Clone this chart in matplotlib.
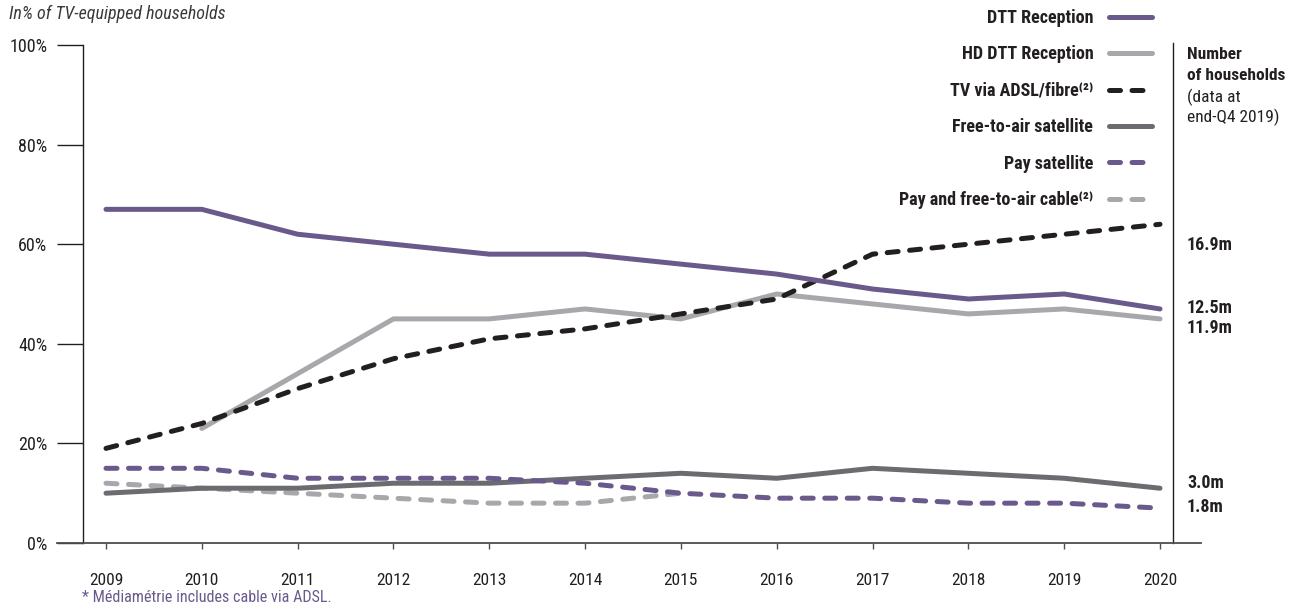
import matplotlib
matplotlib.use("Agg")
import matplotlib.pyplot as plt

years = [2009, 2010, 2011, 2012, 2013, 2014, 2015, 2016, 2017, 2018, 2019, 2020]

dtt = [67, 67, 62, 60, 58, 58, 56, 54, 51, 49, 50, 47]
hd_years = years[1:]
hd_dtt = [23, 34, 45, 45, 47, 45, 50, 48, 46, 47, 45]
adsl = [19, 24, 31, 37, 41, 43, 46, 49, 58, 60, 62, 64]
fta_sat = [10, 11, 11, 12, 12, 13, 14, 13, 15, 14, 13, 11]
pay_sat = [15, 15, 13, 13, 13, 12, 10, 9, 9, 8, 8, 7]
cable_years = years[:7]
cable = [12, 11, 10, 9, 8, 8, 10]

series_labels = ["DTT Reception", "HD DTT Reception", "TV via ADSL/fibre⁽²⁾",
                 "Free-to-air satellite", "Pay satellite",
                 "Pay and free-to-air cable⁽²⁾"]
household_labels = ["16.9m", "12.5m", "11.9m", "3.0m", "1.8m"]
y_ticks = [0, 20, 40, 60, 80, 100]

PURPLE = "#6a5a8c"
LIGHT = "#a8a8ac"
BLACK = "#231f20"
DARK = "#6b6c70"
TEXT = "#231f20"

FAM = ["Roboto Condensed", "DejaVu Sans"]
plt.rcParams["font.family"] = FAM

W, H = 1304, 613
fig = plt.figure(figsize=(W / 100, H / 100), dpi=100)

# axes box in pixels: x 57..1201, y 45..543 (from top)
ax_l, ax_r, ax_t, ax_b = 57, 1201, 45, 543
ax = fig.add_axes([ax_l / W, 1 - ax_b / H, (ax_r - ax_l) / W, (ax_b - ax_t) / H])

px_per_year = (1160 - 106) / 11
x0 = 2009 - (106 - ax_l) / px_per_year
x1 = 2020 + (ax_r - 1160) / px_per_year
ax.set_xlim(x0, x1)
ax.set_ylim(0, 100)

lw = 3.6
dash = (2.2, 2.3)

common = dict(lw=lw, solid_capstyle="round", dash_capstyle="round", clip_on=False)
l_cable, = ax.plot(cable_years, cable, color=LIGHT, dashes=dash, zorder=2, **common)
l_fta, = ax.plot(years, fta_sat, color=DARK, zorder=3, **common)
l_pay, = ax.plot(years, pay_sat, color=PURPLE, dashes=dash, zorder=4, **common)
l_hd, = ax.plot(hd_years, hd_dtt, color=LIGHT, zorder=5, **common)
l_adsl, = ax.plot(years, adsl, color=BLACK, dashes=dash, zorder=6, **common)
l_dtt, = ax.plot(years, dtt, color=PURPLE, zorder=7, **common)

# spines: bottom full width, left and right drawn as separate rules
for s in ["top", "right", "left"]:
    ax.spines[s].set_visible(False)
ax.spines["bottom"].set_color("#4d4d4f")
ax.spines["bottom"].set_linewidth(1.3)

left_x = 2009 - (106 - 83) / px_per_year
right_x = 2020 + (1173 - 1160) / px_per_year
ax.plot([left_x, left_x], [0, 100], color=TEXT, lw=1.0, clip_on=False, zorder=1)
ax.plot([right_x, right_x], [0, 100.4], color=TEXT, lw=1.0, clip_on=False, zorder=1)

ax.set_yticks(y_ticks)
ax.set_yticklabels([f"{v}%" for v in y_ticks])
ax.tick_params(axis="y", direction="in", length=19, width=1.0, color=TEXT,
               pad=7, labelsize=13, labelcolor=TEXT)
ax.set_xticks(years)
ax.set_xticklabels([str(y) for y in years])
ax.tick_params(axis="x", direction="out", length=4.5, width=1.0, color="#4d4d4f",
               pad=17, labelsize=12.5, labelcolor=TEXT)

# household counts on the right
label_y = [59.8, 47.2, 43.2, 12.0, 7.2]
lab_x = 2020 + (1187 - 1160) / px_per_year
for txt, yv in zip(household_labels, label_y):
    ax.text(lab_x, yv, txt, ha="left", va="center", fontsize=13,
            fontweight="bold", color=TEXT, clip_on=False)

fig.text(1187 / W, 1 - 65 / H, "Number\nof households", ha="left", va="center",
         fontsize=12.5, fontweight="bold", color=TEXT, linespacing=1.45)
fig.text(1187 / W, 1 - 107 / H, "(data at\nend-Q4 2019)", ha="left", va="center",
         fontsize=12.5, color=TEXT, linespacing=1.2)

fig.text(9 / W, 1 - 14 / H, "In% of TV-equipped households", ha="left",
         va="center", fontsize=13, style="italic", color="#3a3a3c")
fig.text(82 / W, 1 - 598 / H, "* Médiamétrie includes cable via ADSL.",
         ha="left", va="center", fontsize=11.6, color=PURPLE)

handles = [l_dtt, l_hd, l_adsl, l_fta, l_pay, l_cable]
leg = fig.legend(handles, series_labels, loc="upper right",
                 bbox_to_anchor=(1152 / W, 1 - 9 / H), frameon=False,
                 markerfirst=False, handlelength=2.4, handletextpad=0.85,
                 labelspacing=1.02, borderpad=0, borderaxespad=0,
                 prop=dict(family=FAM, weight="bold", size=13))
for t in leg.get_texts():
    t.set_color(TEXT)

fig.savefig("out.png", dpi=100)
